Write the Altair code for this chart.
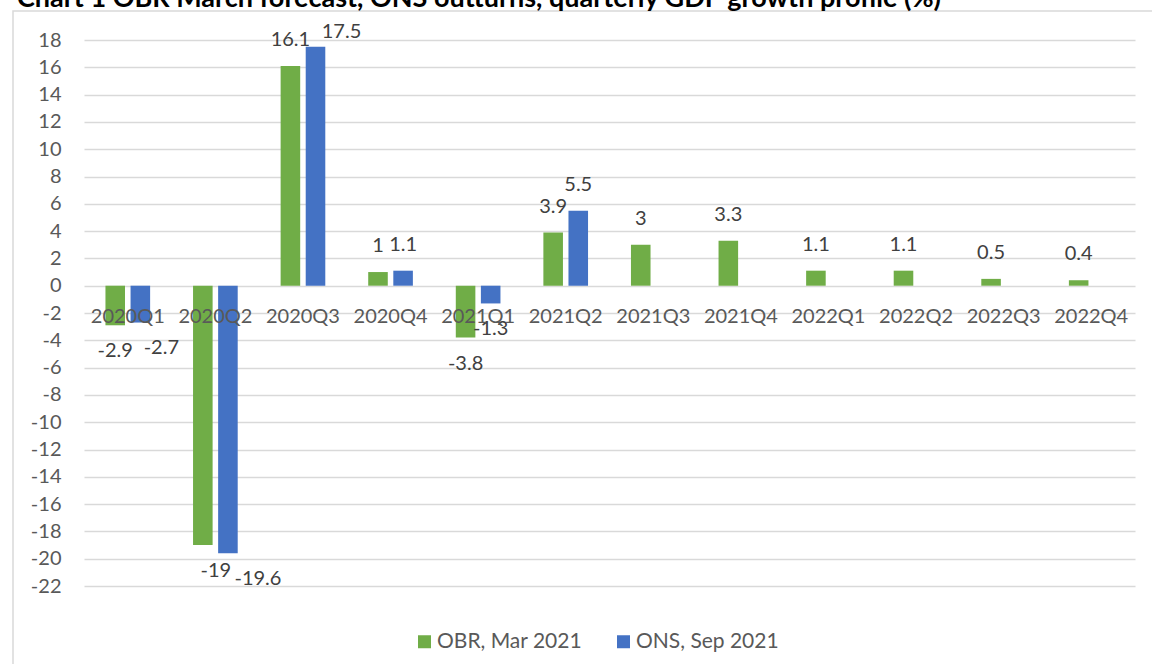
import altair as alt
import pandas as pd

# Quarterly GDP growth, % on previous quarter
quarters = ["2020Q1", "2020Q2", "2020Q3", "2020Q4", "2021Q1", "2021Q2",
            "2021Q3", "2021Q4", "2022Q1", "2022Q2", "2022Q3", "2022Q4"]
obr_mar_2021 = [-2.9, -19, 16.1, 1, -3.8, 3.9, 3, 3.3, 1.1, 1.1, 0.5, 0.4]
ons_sep_2021 = [-2.7, -19.6, 17.5, 1.1, -1.3, 5.5]

series_names = ["OBR, Mar 2021", "ONS, Sep 2021"]
series_colors = ["#70ad47", "#4472c4"]
y_ticks = list(range(-22, 19, 2))

TITLE = "Chart 1 OBR March forecast, ONS outturns, quarterly GDP growth profile (%)"
FONT = "Lato"
TEXT_GREY = "#595959"
GRID_GREY = "#d9d9d9"

rows = []
for q, v in zip(quarters, obr_mar_2021):
    rows.append({"quarter": q, "series": series_names[0], "value": v})
for q, v in zip(quarters, ons_sep_2021):
    rows.append({"quarter": q, "series": series_names[1], "value": v})
df = pd.DataFrame(rows)

# labels pushed sideways so neighbouring values do not collide
nudges = {
    (series_names[0], "2020Q2"): 13,
    (series_names[1], "2020Q1"): 21,
    (series_names[1], "2020Q2"): 30,
    (series_names[1], "2020Q3"): 26,
}
df["nudge"] = [nudges.get((s, q), 0) for s, q in zip(df["series"], df["quarter"])]

x_enc = alt.X("quarter:N", sort=quarters,
              scale=alt.Scale(paddingInner=0.49, paddingOuter=0.245),
              axis=alt.Axis(title=None, domain=False, ticks=False, grid=False,
                            labelAngle=0, offset=-300, labelPadding=30,
                            labelBaseline="middle", labelFont=FONT, zindex=1,
                            labelFontSize=20, labelColor=TEXT_GREY))
x_off = alt.XOffset("series:N", sort=series_names,
                    scale=alt.Scale(paddingInner=0.22, paddingOuter=0))
y_scale = alt.Scale(domain=[-22, 18], nice=False, zero=False)

bars = alt.Chart(df).mark_bar().encode(
    x=x_enc,
    xOffset=x_off,
    y=alt.Y("value:Q", scale=y_scale,
            axis=alt.Axis(title=None, values=y_ticks, tickCount=len(y_ticks),
                          domain=False, ticks=False,
                          labelOverlap=False, labelExpr="toString(datum.value)",
                          gridColor=GRID_GREY, gridWidth=1.5, labelPadding=23,
                          labelFont=FONT, labelFontSize=20, labelColor=TEXT_GREY)),
    color=alt.Color("series:N", sort=series_names,
                    scale=alt.Scale(domain=series_names, range=series_colors),
                    legend=alt.Legend(title=None, orient="none", direction="horizontal",
                                      legendX=330, legendY=591,
                                      symbolType="square", symbolSize=169,
                                      symbolStrokeWidth=0, labelFont=FONT,
                                      labelFontSize=21, labelColor=TEXT_GREY,
                                      labelOffset=2, columnPadding=30)),
)

label_base = alt.Chart(df).transform_calculate(
    ly="datum.value >= 0 ? min(datum.value + 1.9, 18.6) : datum.value - 1.9",
    txt="toString(datum.value)",
)


def value_labels(dx, keep):
    return label_base.transform_filter(keep).mark_text(
        font=FONT, fontSize=20, color="#404040", baseline="middle", dx=dx
    ).encode(
        x=alt.X("quarter:N", sort=quarters),
        xOffset=alt.XOffset("series:N", sort=series_names),
        y=alt.Y("ly:Q", scale=y_scale),
        text=alt.Text("txt:N"),
    )


labels = [value_labels(0, "datum.nudge == 0")]
for n in sorted(set(nudges.values())):
    labels.append(value_labels(n, f"datum.nudge == {n}"))

frame = alt.Chart(alt.Data(values=[{}])).mark_rect(
    fill="white", fillOpacity=0, stroke=GRID_GREY, strokeWidth=1.5
).encode(x=alt.value(-71), x2=alt.value(1200), y=alt.value(-29), y2=alt.value(700))

title = alt.Chart(alt.Data(values=[{}])).mark_text(
    text=TITLE, font=FONT, fontSize=27, fontWeight="bold", color="black",
    align="left", baseline="alphabetic"
).encode(x=alt.value(-67), y=alt.value(-33))

chart = alt.layer(frame, title, bars, *labels).resolve_scale(
    x="shared", xOffset="shared"
).properties(
    width=1051, height=546,
    padding={"left": 84, "top": 40, "right": 17, "bottom": 78},
    autosize=alt.AutoSizeParams(type="none"),
    background="white",
).configure_view(stroke=None)

chart.save("out.html", embed_options={"renderer": "svg", "actions": False})
